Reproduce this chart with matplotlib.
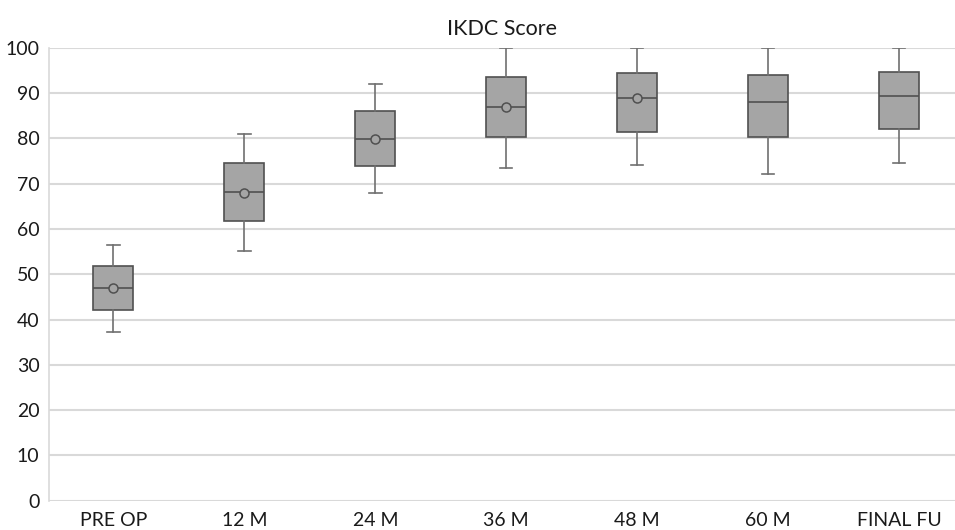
import matplotlib
matplotlib.use("Agg")
import matplotlib.pyplot as plt
import numpy as np

categories = ["PRE OP", "12 M", "24 M", "36 M", "48 M", "60 M", "FINAL FU"]
whisker_low = [37.3, 55.1, 67.9, 73.4, 74.1, 72.2, 74.5]
q1 = [42.1, 61.7, 73.8, 80.2, 81.5, 80.2, 82.0]
median = [46.9, 68.1, 79.9, 87.0, 88.9, 88.1, 89.3]
q3 = [51.8, 74.6, 86.0, 93.5, 94.4, 94.0, 94.7]
whisker_high = [56.5, 80.9, 92.0, 100.0, 100.0, 100.0, 100.0]
means = [46.9, 68.0, 79.9, 87.0, 88.9, np.nan, np.nan]
yticks = [0, 10, 20, 30, 40, 50, 60, 70, 80, 90, 100]

plt.rcParams['font.family'] = ['Lato', 'DejaVu Sans']

fig = plt.figure(figsize=(9.55, 5.3), dpi=100)
ax = fig.add_axes([49.3 / 955, 0.0551, 1 - 49.3 / 955, 0.8547])

stats = []
for i, c in enumerate(categories):
    stats.append(dict(label=c, whislo=whisker_low[i], q1=q1[i], med=median[i],
                      q3=q3[i], whishi=whisker_high[i], fliers=[]))

pos = np.arange(len(categories))
ax.bxp(stats, positions=pos, widths=0.305, patch_artist=True, showfliers=False,
       boxprops=dict(facecolor="#a5a5a5", edgecolor="#505050", linewidth=1.2),
       medianprops=dict(color="#505050", linewidth=1.2),
       whiskerprops=dict(color="#707070", linewidth=1.2),
       capprops=dict(color="#707070", linewidth=1.2),
       capwidths=0.095, zorder=3)
ax.plot(pos, means, linestyle="none", marker="o", markersize=6.5,
        markerfacecolor="#a5a5a5", markeredgecolor="#505050", markeredgewidth=1.1, zorder=4)

ax.set_xlim(-0.49, 6.427)
ax.set_ylim(0, 100)
ax.set_yticks(yticks)
ax.set_xticks(pos)
ax.set_xticklabels(categories, fontsize=14, color="#1a1a1a")
ax.tick_params(axis="y", labelsize=14, labelcolor="#1a1a1a", length=0, pad=7)
ax.tick_params(axis="x", length=0, pad=8)
ax.yaxis.grid(True, color="#d9d9d9", linewidth=1.5, zorder=0)
ax.set_axisbelow(True)
for s in ["top", "right", "bottom"]:
    ax.spines[s].set_visible(False)
ax.spines["left"].set_color("#d9d9d9")
ax.spines["left"].set_linewidth(1.2)
ax.set_title("IKDC Score", fontsize=15.5, pad=9, color="#1a1a1a")

fig.savefig("out.png", dpi=100)
